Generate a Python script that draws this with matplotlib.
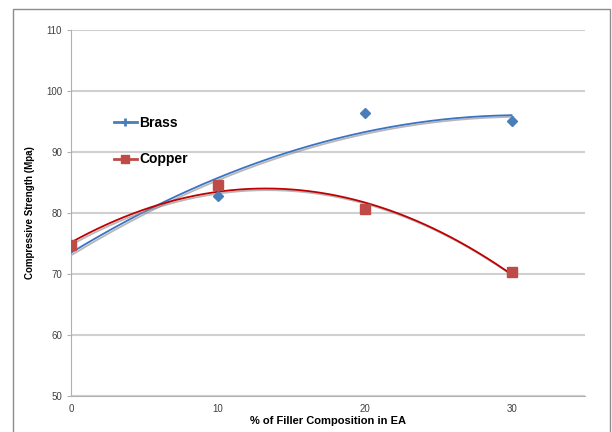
import numpy as np
import matplotlib
matplotlib.use("Agg")
import matplotlib.pyplot as plt
import matplotlib.patheffects as pe
from matplotlib.patches import Rectangle

plt.rcParams['font.family'] = ['Liberation Sans', 'DejaVu Sans']

# values
filler = [0, 10, 20, 30]
brass = [74.5, 82.7, 96.3, 95.0]
copper = [74.8, 84.6, 80.6, 70.3]

blue = '#4a7ebb'
red = '#be4b48'

fig = plt.figure(figsize=(6.12, 4.32), dpi=100)
fig.patches.append(Rectangle((0.021, -0.01), 0.976, 0.989, transform=fig.transFigure,
                             fill=False, edgecolor='#8c8c8c', linewidth=1.0))
ax = fig.add_axes([0.116, 0.083, 0.84, 0.848])

# polynomial (order 2) trend lines, with a soft shadow like Excel
xs = np.linspace(0, 30, 200)
shadow = [pe.SimpleLineShadow(offset=(1.2, -1.2), shadow_color='#888888', alpha=0.6), pe.Normal()]
for vals, col in ((brass, '#3b73c4'), (copper, '#c00000')):
    coef = np.polyfit(filler, vals, 2)
    ax.plot(xs, np.polyval(coef, xs), color=col, lw=1.3, path_effects=shadow, zorder=3)

ax.plot(filler, brass, linestyle='none', marker='D', ms=5, color=blue, zorder=4)
ax.plot(filler, copper, linestyle='none', marker='s', ms=7, color=red, zorder=4)

# legend drawn like the inside-plot legend of the original
h1, = ax.plot([], [], color=blue, lw=2, marker='+', ms=6, mew=2)
h2, = ax.plot([], [], color=red, lw=2, marker='s', ms=6)
leg = ax.legend([h1, h2], ['Brass', 'Copper'], loc='upper left', bbox_to_anchor=(0.06, 0.80),
                frameon=False, handlelength=1.6, handletextpad=0.2, labelspacing=1.65,
                prop={'size': 10, 'weight': 'bold'})

ax.set_xlim(0, 35)
ax.set_ylim(50, 110)
ax.set_xticks([0, 10, 20, 30])
ax.set_yticks(range(50, 111, 10))
ax.grid(axis='y', color='#d0d0d0', lw=1.5)
ax.set_axisbelow(True)
for s in ('top', 'right'):
    ax.spines[s].set_visible(False)
ax.spines['left'].set_color('#b0b0b0')
ax.spines['bottom'].set_color('#b0b0b0')
ax.tick_params(axis='y', length=3, color='#b0b0b0', labelsize=7, labelcolor='#404040')
ax.tick_params(axis='x', length=0, labelsize=7, labelcolor='#404040', pad=6)

ax.set_xlabel('% of Filler Composition in EA', fontsize=8, fontweight='bold', labelpad=1)
ax.set_ylabel('Compressive Strength (Mpa)', fontsize=7, fontweight='bold', labelpad=8)

fig.savefig('out.png', dpi=100)
